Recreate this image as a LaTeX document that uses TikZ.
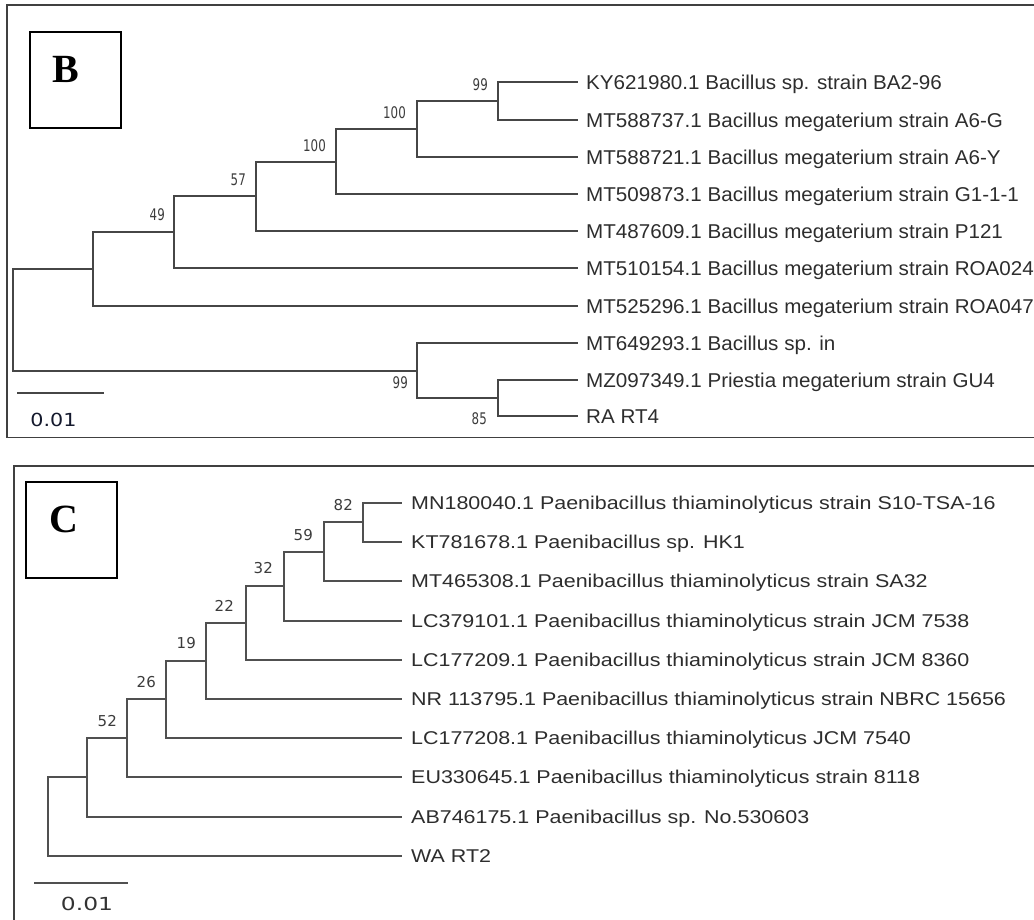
\documentclass[tikz,border=0pt]{standalone}
\usepackage{fontspec}
\newfontfamily\tipfontB[FakeStretch=1.03]{Liberation Sans}
\newfontfamily\tipfontC[FakeStretch=1.16]{Liberation Sans}
\newfontfamily\bootfontB[FakeStretch=0.74]{DejaVu Sans}
\newfontfamily\bootfontC{DejaVu Sans}
\newfontfamily\scalefontB[FakeStretch=1.15]{DejaVu Sans}
\newfontfamily\scalefontC[FakeStretch=1.3]{DejaVu Sans}
\newfontfamily\panelfont{Liberation Serif}
\definecolor{treeB}{RGB}{70,70,70}
\definecolor{treeC}{RGB}{80,80,80}
\definecolor{tiptext}{RGB}{45,45,45}
\definecolor{boottext}{RGB}{60,60,60}
\definecolor{navy}{RGB}{20,25,45}

\tikzset{
  branchB/.style={treeB, line width=2pt},
  branchC/.style={treeC, line width=1.8pt},
  tipB/.style={anchor=west, inner xsep=8pt, inner ysep=0pt, text height=14.3pt,
    text depth=0pt, text=tiptext, font=\tipfontB\fontsize{20}{24}\selectfont},
  tipC/.style={anchor=west, inner xsep=9pt, inner ysep=0pt, text height=13.2pt,
    text depth=0pt, text=tiptext, font=\tipfontC\fontsize{18.5}{22}\selectfont},
  bootB/.style={anchor=east, inner sep=0pt, text height=11.6pt, text depth=0pt,
    text=boottext, font=\bootfontB\fontsize{16}{18}\selectfont},
  bootC/.style={anchor=east, inner sep=0pt, text height=10.9pt, text depth=0pt,
    text=boottext, font=\bootfontC\fontsize{15}{18}\selectfont},
  frame/.style={draw=black!75, line width=1.4pt},
  letterbox/.style={draw=black, line width=1.6pt},
  letter/.style={inner sep=0pt, font=\panelfont\bfseries\fontsize{40}{44}\selectfont},
}

\begin{document}
\begin{tikzpicture}[x=1pt,y=-1pt]
\useasboundingbox (0,0) rectangle (1034,920);

%% panel B
\draw[frame] (7,5) rectangle (1040,437.5);
\draw[letterbox] (30,32) rectangle (121,128);
\node[letter] (LB) at (66,69.5) {B};

\foreach \i/\y/\t in {1/82/{KY621980.1 Bacillus sp. strain BA2-96},
    2/120/{MT588737.1 Bacillus megaterium strain A6-G},
    3/157/{MT588721.1 Bacillus megaterium strain A6-Y},
    4/194/{MT509873.1 Bacillus megaterium strain G1-1-1},
    5/231/{MT487609.1 Bacillus megaterium strain P121},
    6/268/{MT510154.1 Bacillus megaterium strain ROA024},
    7/306/{MT525296.1 Bacillus megaterium strain ROA047},
    8/343/{MT649293.1 Bacillus sp. in},
    9/380/{MZ097349.1 Priestia megaterium strain GU4},
    10/416/{RA RT4}}
  \node[tipB] (B\i) at (578,\y) {\t};

\coordinate (Ba) at (498,101);
\coordinate (Bb) at (417,129);
\coordinate (Bc) at (336,162);
\coordinate (Bd) at (256,196);
\coordinate (Be) at (174,232);
\coordinate (Bf) at (93,269);
\coordinate (Bh) at (498,398);
\coordinate (Bg) at (417,371);
\coordinate (Broot) at (13,320);

\draw[branchB] (Ba) |- (B1) (Ba) |- (B2)
  (Bb) |- (Ba) (Bb) |- (B3)
  (Bc) |- (Bb) (Bc) |- (B4)
  (Bd) |- (Bc) (Bd) |- (B5)
  (Be) |- (Bd) (Be) |- (B6)
  (Bf) |- (Be) (Bf) |- (B7)
  (Bh) |- (B9) (Bh) |- (B10)
  (Bg) |- (B8) (Bg) |- (Bh)
  (Broot) |- (Bf) (Broot) |- (Bg);

\node[bootB] (bBa) at (488,85) {99};
\node[bootB] (bBb) at (406,113) {100};
\node[bootB] (bBc) at (326,146) {100};
\node[bootB] (bBd) at (246,180) {57};
\node[bootB] (bBe) at (165,215) {49};
\node[bootB] (bBg) at (408,383) {99};
\node[bootB] (bBh) at (487,419) {85};

\draw[treeB, line width=1.8pt] (17,393) -- (104,393);
\node[inner sep=0pt, text height=13.1pt, text depth=0pt, text=navy,
  font=\scalefontB\fontsize{18}{20}\selectfont] (sB) at (53.5,420) {0.01};

%% panel C
\draw[frame] (14,466) rectangle (1040,925);
\draw[letterbox] (26,482) rectangle (117,578);
\node[letter] (LC) at (63.5,519.5) {C};

\foreach \i/\y/\t in {1/503/{MN180040.1 Paenibacillus thiaminolyticus strain S10-TSA-16},
    2/542/{KT781678.1 Paenibacillus sp. HK1},
    3/581/{MT465308.1 Paenibacillus thiaminolyticus strain SA32},
    4/621/{LC379101.1 Paenibacillus thiaminolyticus strain JCM 7538},
    5/660/{LC177209.1 Paenibacillus thiaminolyticus strain JCM 8360},
    6/699/{NR 113795.1 Paenibacillus thiaminolyticus strain NBRC 15656},
    7/738/{LC177208.1 Paenibacillus thiaminolyticus JCM 7540},
    8/777/{EU330645.1 Paenibacillus thiaminolyticus strain 8118},
    9/817/{AB746175.1 Paenibacillus sp. No.530603},
    10/856/{WA RT2}}
  \node[tipC] (C\i) at (402,\y) {\t};

\coordinate (Ca) at (363,522);
\coordinate (Cb) at (324,552);
\coordinate (Cc) at (284,586);
\coordinate (Cd) at (246,623);
\coordinate (Ce) at (206,661);
\coordinate (Cf) at (166,699);
\coordinate (Cg) at (127,738);
\coordinate (Ch) at (87,777);
\coordinate (Croot) at (48,817);

\draw[branchC] (Ca) |- (C1) (Ca) |- (C2)
  (Cb) |- (Ca) (Cb) |- (C3)
  (Cc) |- (Cb) (Cc) |- (C4)
  (Cd) |- (Cc) (Cd) |- (C5)
  (Ce) |- (Cd) (Ce) |- (C6)
  (Cf) |- (Ce) (Cf) |- (C7)
  (Cg) |- (Cf) (Cg) |- (C8)
  (Ch) |- (Cg) (Ch) |- (C9)
  (Croot) |- (Ch) (Croot) |- (C10);

\node[bootC] (bCa) at (353,505) {82};
\node[bootC] (bCb) at (313,535) {59};
\node[bootC] (bCc) at (273,568) {32};
\node[bootC] (bCd) at (234,606) {22};
\node[bootC] (bCe) at (196,643) {19};
\node[bootC] (bCf) at (156,682) {26};
\node[bootC] (bCg) at (117,721) {52};

\draw[treeC, line width=1.6pt] (34,883) -- (128,883);
\node[inner sep=0pt, text height=13.1pt, text depth=0pt, text=black!80,
  font=\scalefontC\fontsize{18}{20}\selectfont] (sC) at (87,904) {0.01};
\end{tikzpicture}
\end{document}
